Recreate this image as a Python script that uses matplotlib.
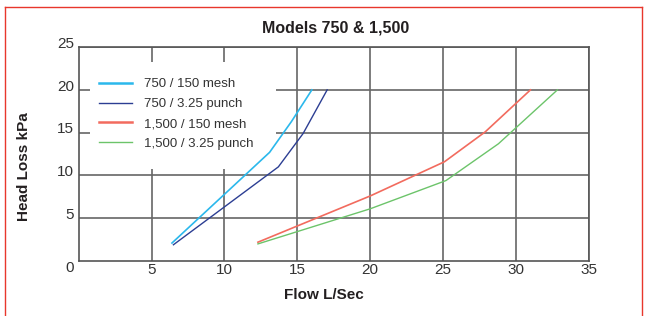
import matplotlib
matplotlib.use("Agg")
import matplotlib.pyplot as plt
import matplotlib.transforms as mtransforms
from matplotlib.lines import Line2D
from matplotlib.patches import Rectangle

plt.rcParams["font.family"] = ["Liberation Sans", "DejaVu Sans"]

# Data (flow L/sec, head loss kPa)
flow_750_mesh = [6.4, 13.1, 14.6, 16.0]
loss_750_mesh = [2.1, 12.7, 16.3, 20.0]
flow_750_punch = [6.5, 13.7, 15.4, 17.05]
loss_750_punch = [1.9, 11.0, 14.9, 20.0]
flow_1500_mesh = [12.3, 20.0, 25.1, 27.9, 31.0]
loss_1500_mesh = [2.2, 7.6, 11.6, 15.1, 20.0]
flow_1500_punch = [12.3, 20.0, 25.2, 28.8, 32.85]
loss_1500_punch = [2.0, 6.1, 9.4, 13.7, 20.0]

series_labels = ["750 / 150 mesh", "750 / 3.25 punch", "1,500 / 150 mesh", "1,500 / 3.25 punch"]
series_colors = ["#2bb8ec", "#2c3e93", "#f26b5e", "#6cc46a"]

x_ticks = [5, 10, 15, 20, 25, 30, 35]
y_ticks = [5, 10, 15, 20, 25]

fig = plt.figure(figsize=(6.47, 3.16), dpi=100)
ax = fig.add_axes([0.1216, 0.174, 0.7884, 0.677])

ax.set_xlim(0, 35)
ax.set_ylim(0, 25)
ax.set_xticks(x_ticks)
ax.set_yticks(y_ticks)
ax.set_xticklabels([str(v) for v in x_ticks])
ax.set_yticklabels([str(v) for v in y_ticks])
ax.tick_params(length=0, labelsize=11, labelcolor="#333333")
ax.tick_params(axis="x", pad=1.5)
ax.tick_params(axis="y", pad=3.5)

# y labels in the original sit a little above their gridlines
shift = mtransforms.ScaledTranslation(0, 3.5 / 72, fig.dpi_scale_trans)
for lab in ax.get_yticklabels():
    lab.set_transform(lab.get_transform() + shift)

ax.set_axisbelow(True)
ax.grid(True, color="#666666", linewidth=1.2)
for s in ax.spines.values():
    s.set_color("#555555")
    s.set_linewidth(1.2)

# white patch behind the legend hides the grid there
ax.add_patch(Rectangle((0.022, 0.43), 0.365, 0.50, transform=ax.transAxes,
                       facecolor="white", edgecolor="none", zorder=1))

ax.plot(flow_750_mesh, loss_750_mesh, color=series_colors[0], lw=1.2, label=series_labels[0], zorder=3)
ax.plot(flow_750_punch, loss_750_punch, color=series_colors[1], lw=1.0, label=series_labels[1], zorder=3)
ax.plot(flow_1500_mesh, loss_1500_mesh, color=series_colors[2], lw=1.2, label=series_labels[2], zorder=3)
ax.plot(flow_1500_punch, loss_1500_punch, color=series_colors[3], lw=1.0, label=series_labels[3], zorder=3)

handles = [Line2D([], [], color=series_colors[0], lw=1.8),
           Line2D([], [], color=series_colors[1], lw=1.0),
           Line2D([], [], color=series_colors[2], lw=1.8),
           Line2D([], [], color=series_colors[3], lw=1.0)]
leg = ax.legend(handles, series_labels, loc="upper left", bbox_to_anchor=(0.04, 0.855),
                frameon=False, fontsize=9.5, handlelength=2.5, handletextpad=0.9,
                labelspacing=0.58, borderpad=0, borderaxespad=0)
for t in leg.get_texts():
    t.set_color("#333333")

fig.text(0.107, 0.152, "0", ha="center", va="center", fontsize=11, color="#333333")
fig.text(0.518, 0.91, "Models 750 & 1,500", ha="center", va="center",
         fontsize=11.5, fontweight="bold", color="#231f20")
fig.text(0.501, 0.068, "Flow L/Sec", ha="center", va="center",
         fontsize=11, fontweight="bold", color="#231f20")
fig.text(0.037, 0.473, "Head Loss kPa", ha="center", va="center", rotation=90,
         fontsize=11, fontweight="bold", color="#231f20")

# red frame around the figure (bottom edge is cut off in the original)
red = "#e8372c"
fig.add_artist(Line2D([0.008, 0.992], [0.978, 0.978], color=red, lw=1.0))
fig.add_artist(Line2D([0.008, 0.008], [0.0, 0.978], color=red, lw=1.0))
fig.add_artist(Line2D([0.992, 0.992], [0.0, 0.978], color=red, lw=1.0))

fig.savefig("out.png", dpi=100)
